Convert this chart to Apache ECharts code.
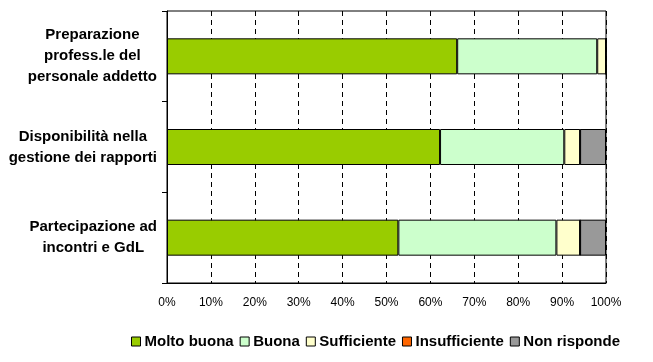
<!DOCTYPE html>
<html>
<head>
<meta charset="utf-8">
<script src="https://cdn.jsdelivr.net/npm/echarts@6/dist/echarts.min.js"></script>
<style>
html,body{margin:0;padding:0;background:#fff;}
#c{width:653px;height:362px;}
</style>
</head>
<body>
<div id="c"></div>
<script>
var categories = [
  'Preparazione\nprofess.le del\npersonale addetto',
  'Disponibilità nella\ngestione dei rapporti',
  'Partecipazione ad\nincontri e GdL'
];
var seriesNames = ['Molto buona', 'Buona', 'Sufficiente', 'Insufficiente', 'Non risponde'];
var moltoBuona   = [66.1, 62.2, 52.7];
var buona        = [31.9, 28.3, 36.0];
var sufficiente  = [2.0, 3.6, 5.4];
var insufficiente= [0, 0, 0];
var nonRisponde  = [0, 5.9, 5.9];
var xTicks = [0,10,20,30,40,50,60,70,80,90,100];

var colors = ['#99CC00', '#CCFFCC', '#FFFFCC', '#FF6600', '#999999'];
var values = [moltoBuona, buona, sufficiente, insufficiente, nonRisponde];
var FONT = 'Liberation Sans, Arial, sans-serif';

var chart = echarts.init(document.getElementById('c'), null, {renderer: 'canvas'});
chart.setOption({
  animation: false,
  backgroundColor: '#fff',
  grid: {left: 167, right: 47, top: 11, bottom: 79, show: true, borderColor: '#000', borderWidth: 1, backgroundColor: 'transparent'},
  xAxis: {
    type: 'value', min: xTicks[0], max: xTicks[xTicks.length - 1], interval: 10,
    axisLine: {show: true, lineStyle: {color: '#000', width: 1}},
    axisTick: {show: false},
    splitLine: {show: true, lineStyle: {color: '#000', type: [5, 4], width: 1}},
    axisLabel: {formatter: '{value}%', color: '#000', fontFamily: FONT, fontSize: 12, margin: 14}
  },
  yAxis: {
    type: 'category', inverse: true, data: categories,
    axisLine: {show: true, lineStyle: {color: '#000', width: 1}},
    axisTick: {show: true, length: 5, lineStyle: {color: '#000'}},
    axisLabel: {
      margin: 10, color: '#000', lineHeight: 21,
      formatter: function (v) { return v.split('\n').map(function (l) { return '{c|' + l + '}'; }).join('\n'); },
      rich: {c: {align: 'center', fontFamily: FONT, fontWeight: 'bold', fontSize: 15, lineHeight: 21, color: '#000'}}
    }
  },
  legend: {
    left: 126, top: 329, icon: 'rect', itemWidth: 9, itemHeight: 9, itemGap: 6,
    textStyle: {fontFamily: FONT, fontWeight: 'bold', fontSize: 15, color: '#000', padding: [0,0,0,-1]},
    itemStyle: {borderColor: '#000', borderWidth: 1},
    data: seriesNames
  },
  series: seriesNames.map(function (n, i) {
    return {
      name: n, type: 'bar', stack: 'total', data: values[i], barWidth: 36,
      itemStyle: {color: colors[i], borderColor: '#000', borderWidth: 1}
    };
  })
});
</script>
</body>
</html>
